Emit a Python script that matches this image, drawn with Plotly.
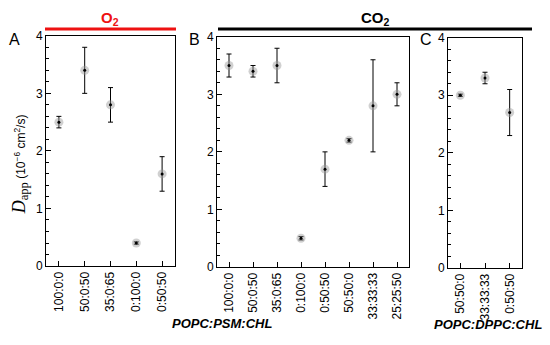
import plotly.graph_objects as go

W, H = 550, 345

# ---- data ----
cats_a = ["100:0:0", "50:0:50", "35:0:65", "0:100:0", "0:50:50"]
vals_a = [2.5, 3.4, 2.8, 0.4, 1.6]
err_a = [0.1, 0.4, 0.3, 0.02, 0.3]

cats_b = ["100:0:0", "50:0:50", "35:0:65", "0:100:0", "0:50:50", "50:50:0", "33:33:33", "25:25:50"]
vals_b = [3.5, 3.4, 3.5, 0.5, 1.7, 2.2, 2.8, 3.0]
err_b = [0.2, 0.1, 0.3, 0.03, 0.3, 0.03, 0.8, 0.2]

cats_c = ["50:50:0", "33:33:33", "0:50:50"]
vals_c = [3.0, 3.3, 2.7]
err_c = [0.02, 0.1, 0.4]

y_ticks = [0, 1, 2, 3, 4]

fig = go.Figure()

panels = [
    ("x", "y", cats_a, vals_a, err_a),
    ("x2", "y2", cats_b, vals_b, err_b),
    ("x3", "y3", cats_c, vals_c, err_c),
]
for xa, ya, c, v, e in panels:
    fig.add_trace(go.Scatter(
        x=c, y=v, xaxis=xa, yaxis=ya, mode="markers",
        marker=dict(size=9, color="rgba(150,150,150,0.45)", line=dict(width=0)),
        error_y=dict(type="data", array=e, visible=True, color="black", thickness=1, width=2.5),
        showlegend=False, hoverinfo="skip"))
    fig.add_trace(go.Scatter(
        x=c, y=v, xaxis=xa, yaxis=ya, mode="markers",
        marker=dict(size=3, color="black"),
        showlegend=False, hoverinfo="skip"))

def px_x(p):
    return p / W

def px_y(p):
    return 1 - p / H

font = dict(family="Liberation Sans, Arial, sans-serif", size=12, color="black")

def xaxis(l, r, n, anchor):
    return dict(domain=[px_x(l), px_x(r)], anchor=anchor, range=[-0.5, n - 0.5],
                showline=True, linecolor="black", linewidth=1, mirror=True,
                ticks="inside", ticklen=5, tickcolor="black", tickangle=-90,
                showgrid=False, zeroline=False, tickfont=font, type="category")

def yaxis(t, b, anchor):
    return dict(domain=[px_y(b), px_y(t)], anchor=anchor, range=[0, 4],
                tickvals=y_ticks, showline=True, linecolor="black", linewidth=1, mirror=True,
                ticks="inside", ticklen=5, tickcolor="black",
                minor=dict(dtick=0.2, ticks="inside", ticklen=3, tickcolor="black", showgrid=False),
                showgrid=False, zeroline=False, tickfont=font)

fig.update_layout(
    width=W, height=H, margin=dict(l=0, r=0, t=0, b=0),
    paper_bgcolor="white", plot_bgcolor="white",
    xaxis=xaxis(46, 175, len(cats_a), "y"),
    yaxis=yaxis(30, 270, "x"),
    xaxis2=xaxis(217, 409, len(cats_b), "y2"),
    yaxis2=yaxis(31, 271, "x2"),
    xaxis3=xaxis(448, 522, len(cats_c), "y3"),
    yaxis3=yaxis(32, 272, "x3"),
)

# gas header lines
fig.add_shape(type="line", xref="paper", yref="paper",
              x0=px_x(45), x1=px_x(176), y0=px_y(23), y1=px_y(23),
              line=dict(color="#ee1111", width=3))
fig.add_shape(type="line", xref="paper", yref="paper",
              x0=px_x(218), x1=px_x(532), y0=px_y(23), y1=px_y(23),
              line=dict(color="black", width=3))

ann = []
def add_text(x, y, text, size, color="black", bold=False, italic=False, angle=0, xanchor="center"):
    t = text
    if italic:
        t = "<i>" + t + "</i>"
    if bold:
        t = "<b>" + t + "</b>"
    ann.append(dict(x=px_x(x), y=px_y(y), xref="paper", yref="paper", text=t,
                    showarrow=False, textangle=angle, xanchor=xanchor, yanchor="middle",
                    font=dict(family="Liberation Sans, Arial, sans-serif", size=size, color=color)))

add_text(110, 12, "O<sub>2</sub>", 15, color="#ee1111", bold=True)
add_text(375, 12, "CO<sub>2</sub>", 15, bold=True)
add_text(14, 34, "A", 16)
add_text(194, 34, "B", 16)
add_text(426, 34, "C", 16)
add_text(222, 330, "POPC:PSM:CHL", 13, bold=True, italic=True)
add_text(488, 331, "POPC:DPPC:CHL", 13, bold=True, italic=True)
add_text(20, 164,
         "<span style='font-family:Liberation Serif, Times New Roman, serif;font-size:18px'><i>D</i><sub>app</sub></span> (10<sup>−6</sup> cm<sup>2</sup>/s)",
         12, angle=-90)

fig.update_layout(annotations=ann)

fig.write_html("out.html", config={"displayModeBar": False},
               post_script="document.body.style.margin='0';document.body.style.padding='0';")
